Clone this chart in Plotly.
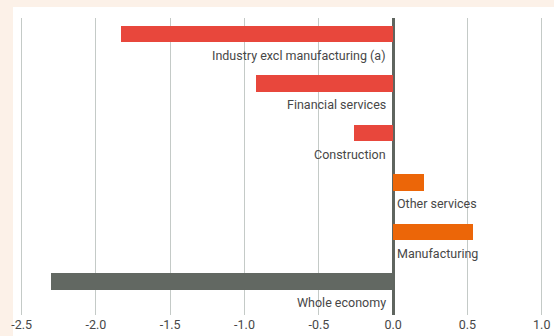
import plotly.graph_objects as go

# Contribution by sector (percentage points)
sectors = [
    "Industry excl manufacturing (a)",
    "Financial services",
    "Construction",
    "Other services",
    "Manufacturing",
    "Whole economy",
]
values = [-1.83, -0.92, -0.26, 0.21, 0.54, -2.30]
bar_colors = ["#e8473c", "#e8473c", "#e8473c", "#ec6608", "#ec6608", "#626862"]

tick_values = [-2.5, -2.0, -1.5, -1.0, -0.5, 0.0, 0.5, 1.0]
tick_labels = ["-2.5", "-2.0", "-1.5", "-1.0", "-0.5", "0.0", "0.5", "1.0"]

positions = list(range(len(sectors)))

FONT = "Roboto"
TEXT = "#474747"

fig = go.Figure()
fig.add_trace(go.Bar(
    x=values,
    y=positions,
    orientation="h",
    marker=dict(color=bar_colors, line=dict(width=0)),
    width=0.334,
    offset=-0.34,
    hoverinfo="skip",
))

# Sector names sit under each bar, against the zero line
for pos, name, val in zip(positions, sectors, values):
    fig.add_annotation(
        x=0, y=pos + 0.25, xref="x", yref="y",
        text=name, showarrow=False,
        xanchor="right" if val < 0 else "left",
        xshift=-5 if val < 0 else 2,
        font=dict(family=FONT, size=12.5, color=TEXT),
    )

# White panel on the cream page
fig.add_shape(
    type="rect", xref="paper", yref="paper",
    x0=0, x1=1.05, y0=-0.2, y1=1.037,
    fillcolor="white", line=dict(width=0), layer="below",
)

fig.update_layout(
    width=554, height=336,
    margin=dict(l=13, r=4, t=18, b=18),
    paper_bgcolor="#fcf1e8",
    plot_bgcolor="white",
    showlegend=False,
    bargap=0,
    xaxis=dict(
        range=[-2.558, 1.022],
        tickvals=tick_values, ticktext=tick_labels,
        showgrid=True, gridcolor="#c4cac7", gridwidth=1,
        zeroline=True, zerolinecolor="#5f655f", zerolinewidth=3,
        showline=False, ticks="",
        tickfont=dict(family=FONT, size=12.5, color=TEXT),
        ticklabeloverflow="allow",
        fixedrange=True,
    ),
    yaxis=dict(
        range=[5.5, -0.5],
        showgrid=False, zeroline=False, showticklabels=False,
        showline=False, ticks="", fixedrange=True,
    ),
)

fig.write_html("out.html")
